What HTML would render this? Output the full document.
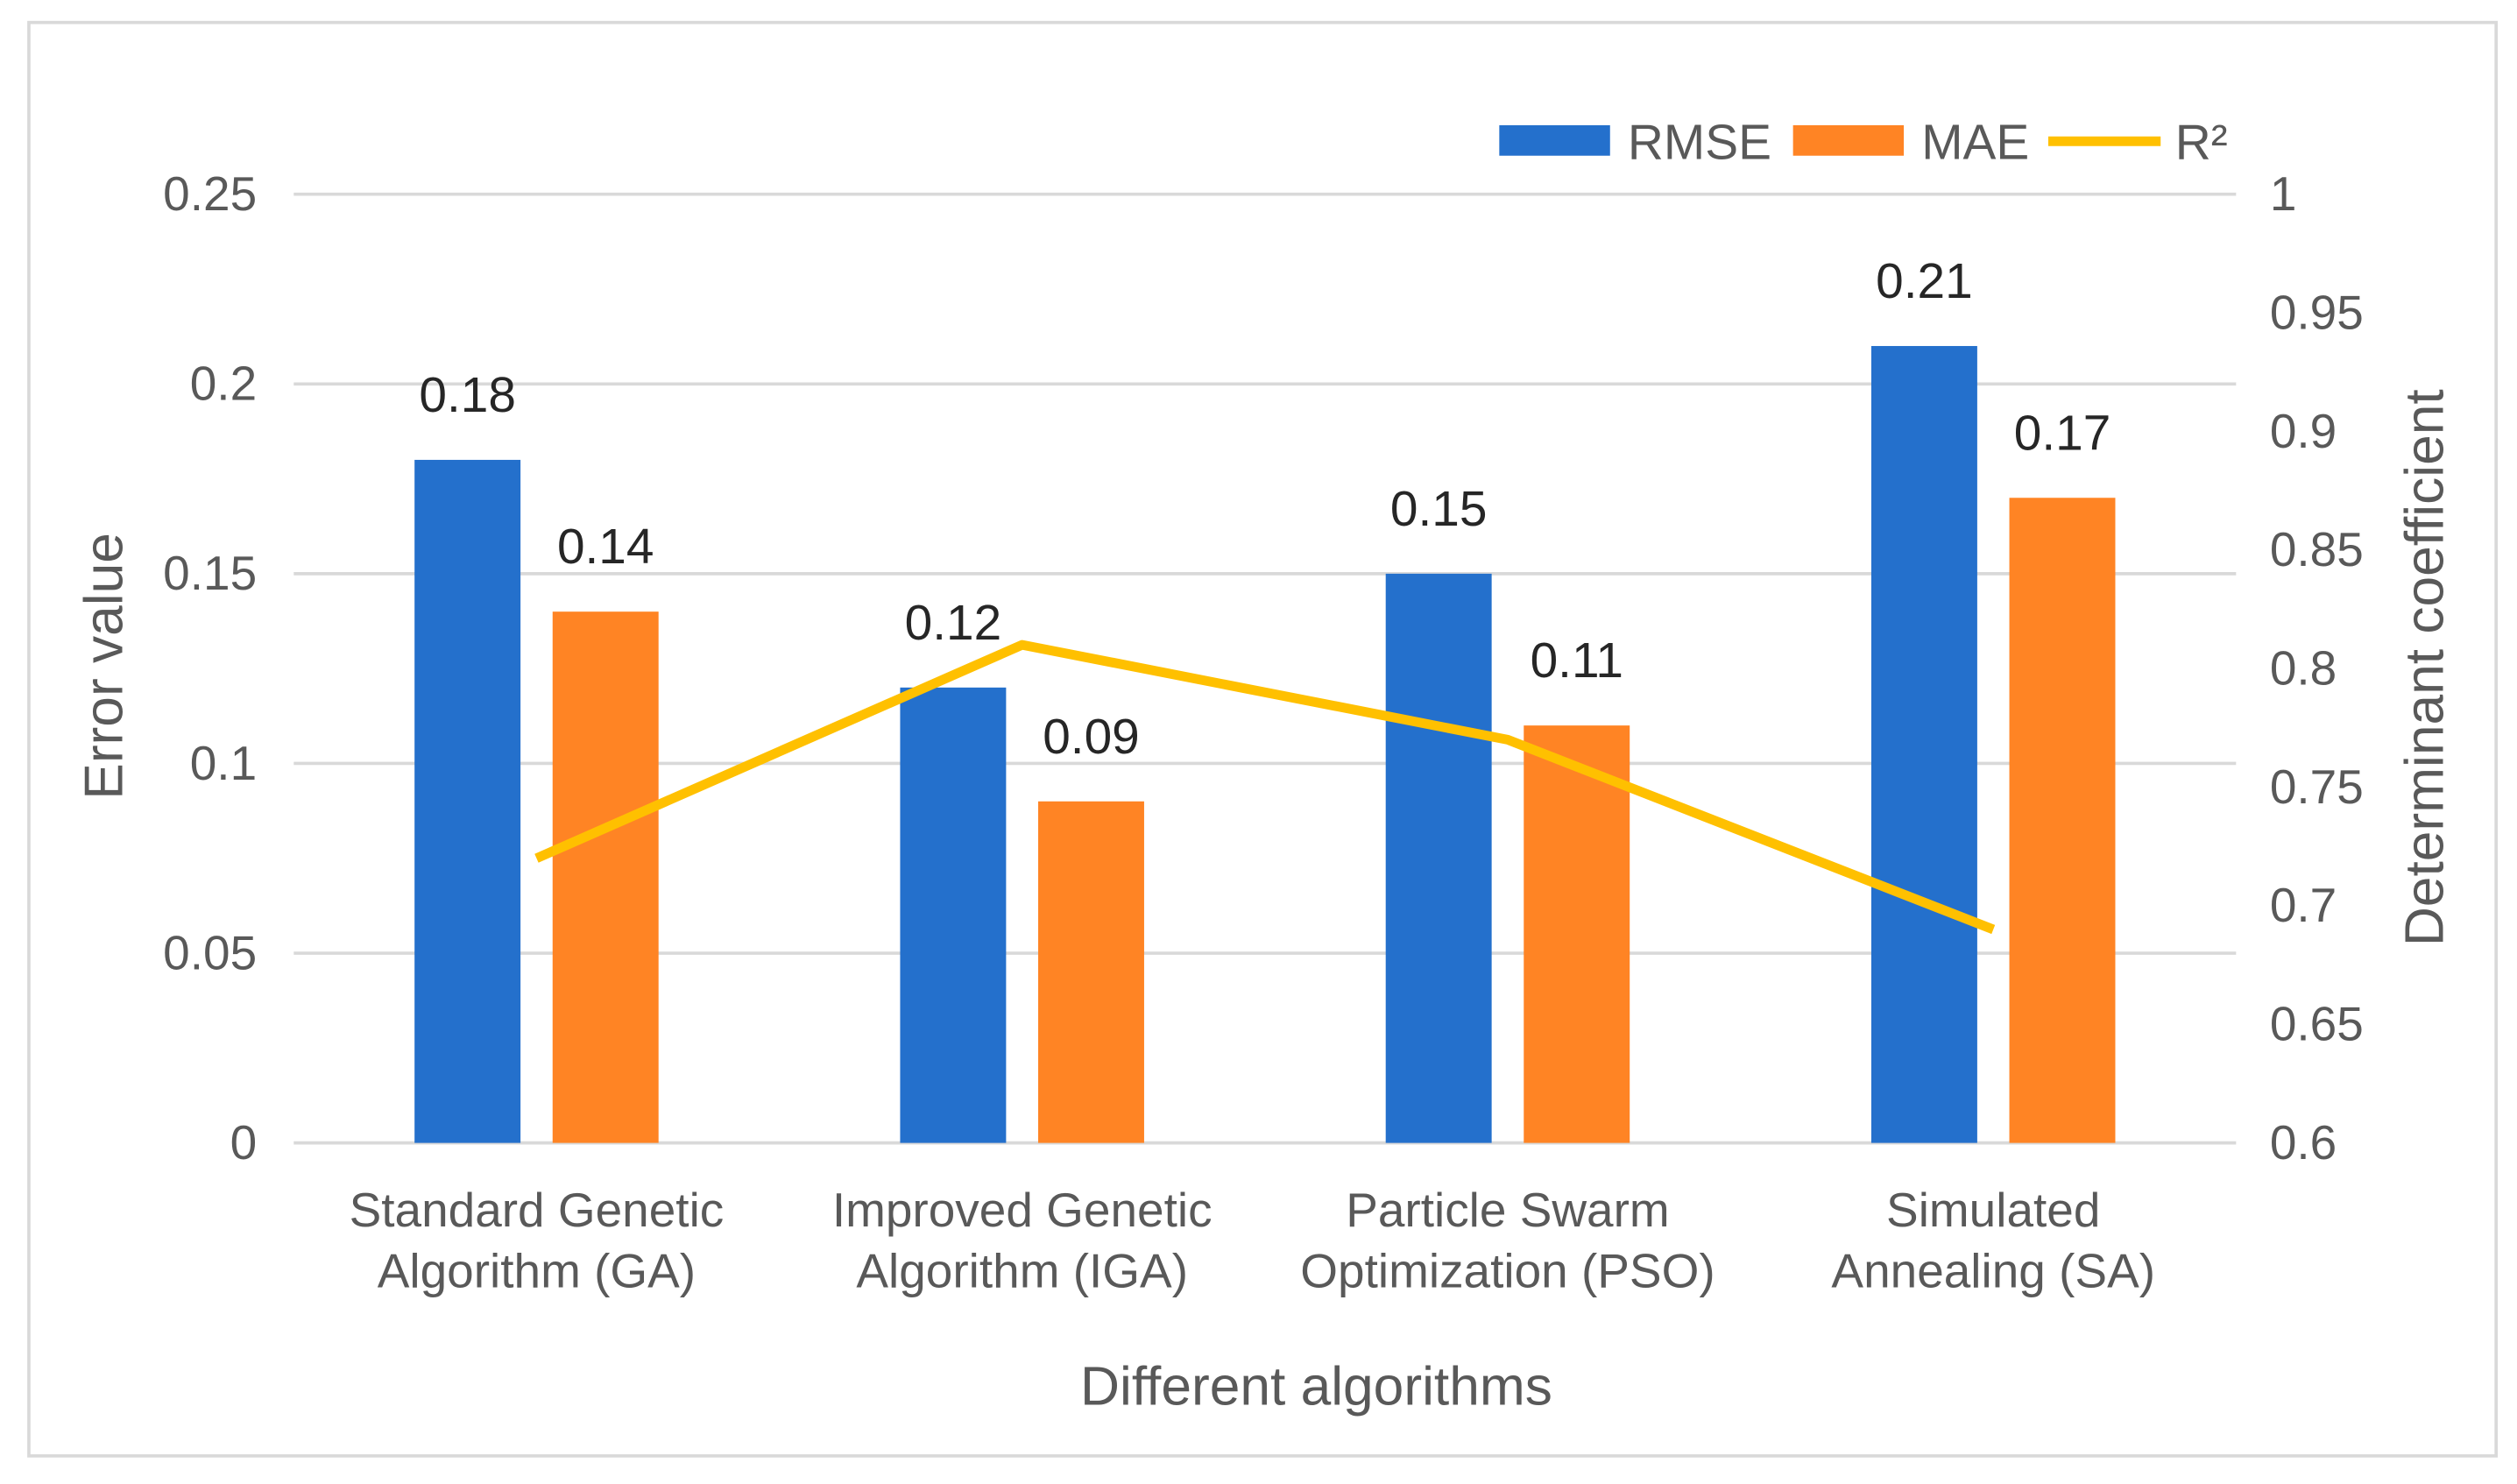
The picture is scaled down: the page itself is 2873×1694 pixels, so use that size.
<!DOCTYPE html>
<html><head><meta charset="utf-8"><style>
html,body{margin:0;padding:0;background:#fff;}
svg{display:block;font-family:"Liberation Sans",Arial,sans-serif;}
</style></head><body>
<svg id="chart" width="2873" height="1694" viewBox="0 0 1568 924.5" preserveAspectRatio="none" xmlns="http://www.w3.org/2000/svg">
<rect x="18" y="14" width="1537" height="893" fill="#fff" stroke="#d9d9d9" stroke-width="2"/>
<g id="grid"></g><g id="bars"></g><g id="line"></g><g id="labels"></g>
<text transform="translate(76,415) rotate(-90)" text-anchor="middle" font-size="34" fill="#595959">Error value</text>
<text transform="translate(1522,416) rotate(-90)" text-anchor="middle" font-size="34" fill="#595959">Determinant coefficient</text>
<text x="820" y="875" text-anchor="middle" font-size="34" fill="#595959">Different algorithms</text>
<g>
<rect x="934" y="78" width="69" height="19" fill="#2470cc"/>
<text x="1014" y="99" font-size="31" fill="#595959">RMSE</text>
<rect x="1117" y="78" width="69" height="19" fill="#ff8424"/>
<text x="1197" y="99" font-size="31" fill="#595959">MAE</text>
<line x1="1276" y1="88" x2="1346" y2="88" stroke="#ffc000" stroke-width="6"/>
<text x="1355" y="99" font-size="31" fill="#595959">R²</text>
</g>
</svg>
<script>
const categories=[["Standard Genetic","Algorithm (GA)"],["Improved Genetic","Algorithm (IGA)"],["Particle Swarm","Optimization (PSO)"],["Simulated","Annealing (SA)"]];
const rmse=[0.18,0.12,0.15,0.21];
const mae=[0.14,0.09,0.11,0.17];
const r2=[0.72,0.81,0.77,0.69];
const leftTicks=["0","0.05","0.1","0.15","0.2","0.25"];
const rightTicks=["0.6","0.65","0.7","0.75","0.8","0.85","0.9","0.95","1"];
const NS="http://www.w3.org/2000/svg";
const x0=183,x1=1393,yb=712,yt=121;
const yL=v=>yb-(v/0.25)*(yb-yt);
const yR=v=>yb-((v-0.6)/0.4)*(yb-yt);
const band=(x1-x0)/categories.length;
const xc=i=>x0+band*(i+0.5);
function mk(tag,attrs,parent,txt){const e=document.createElementNS(NS,tag);for(const k in attrs)e.setAttribute(k,attrs[k]);if(txt!==undefined)e.textContent=txt;document.getElementById(parent).appendChild(e);return e;}
leftTicks.forEach(t=>{const v=parseFloat(t);
 const l=mk('line',{x1:x0,x2:x1,y1:yL(v),y2:yL(v),stroke:'#d9d9d9','stroke-width':2},'grid');
 
 
 const tx=mk('text',{x:160,y:yL(v)+10,'text-anchor':'end','font-size':30,fill:'#595959'},'labels',t);
 
 
});
rightTicks.forEach(t=>{const v=parseFloat(t);
 const tx=mk('text',{x:1414,y:yR(v)+10,'font-size':30,fill:'#595959'},'labels',t);
 
 
});
const bw=66,gap=20;
categories.forEach((c,i)=>{
 const cx=xc(i);
 const b1=mk('rect',{x:cx-gap/2-bw,y:yL(rmse[i]),width:bw,height:yb-yL(rmse[i]),fill:'#2470cc'},'bars');
 
 
 const b2=mk('rect',{x:cx+gap/2,y:yL(mae[i]),width:bw,height:yb-yL(mae[i]),fill:'#ff8424'},'bars');
 
 
 const l1=mk('text',{x:cx-gap/2-bw/2,y:yL(rmse[i])-30,'text-anchor':'middle','font-size':31,fill:'#262626'},'labels',String(rmse[i]));
 
 
 const l2=mk('text',{x:cx+gap/2+bw/2,y:yL(mae[i])-30,'text-anchor':'middle','font-size':31,fill:'#262626'},'labels',String(mae[i]));
 
 
 c.forEach((s,k)=>{const t=mk('text',{x:cx,y:764+k*38,'text-anchor':'middle','font-size':30,fill:'#595959'},'labels',s);
  
  });
});
const pts=r2.map((v,i)=>xc(i)+','+yR(v)).join(' ');
const pl=mk('polyline',{points:pts,fill:'none',stroke:'#ffc000','stroke-width':6,'stroke-linejoin':'round'},'line');


</script>
</body></html>
